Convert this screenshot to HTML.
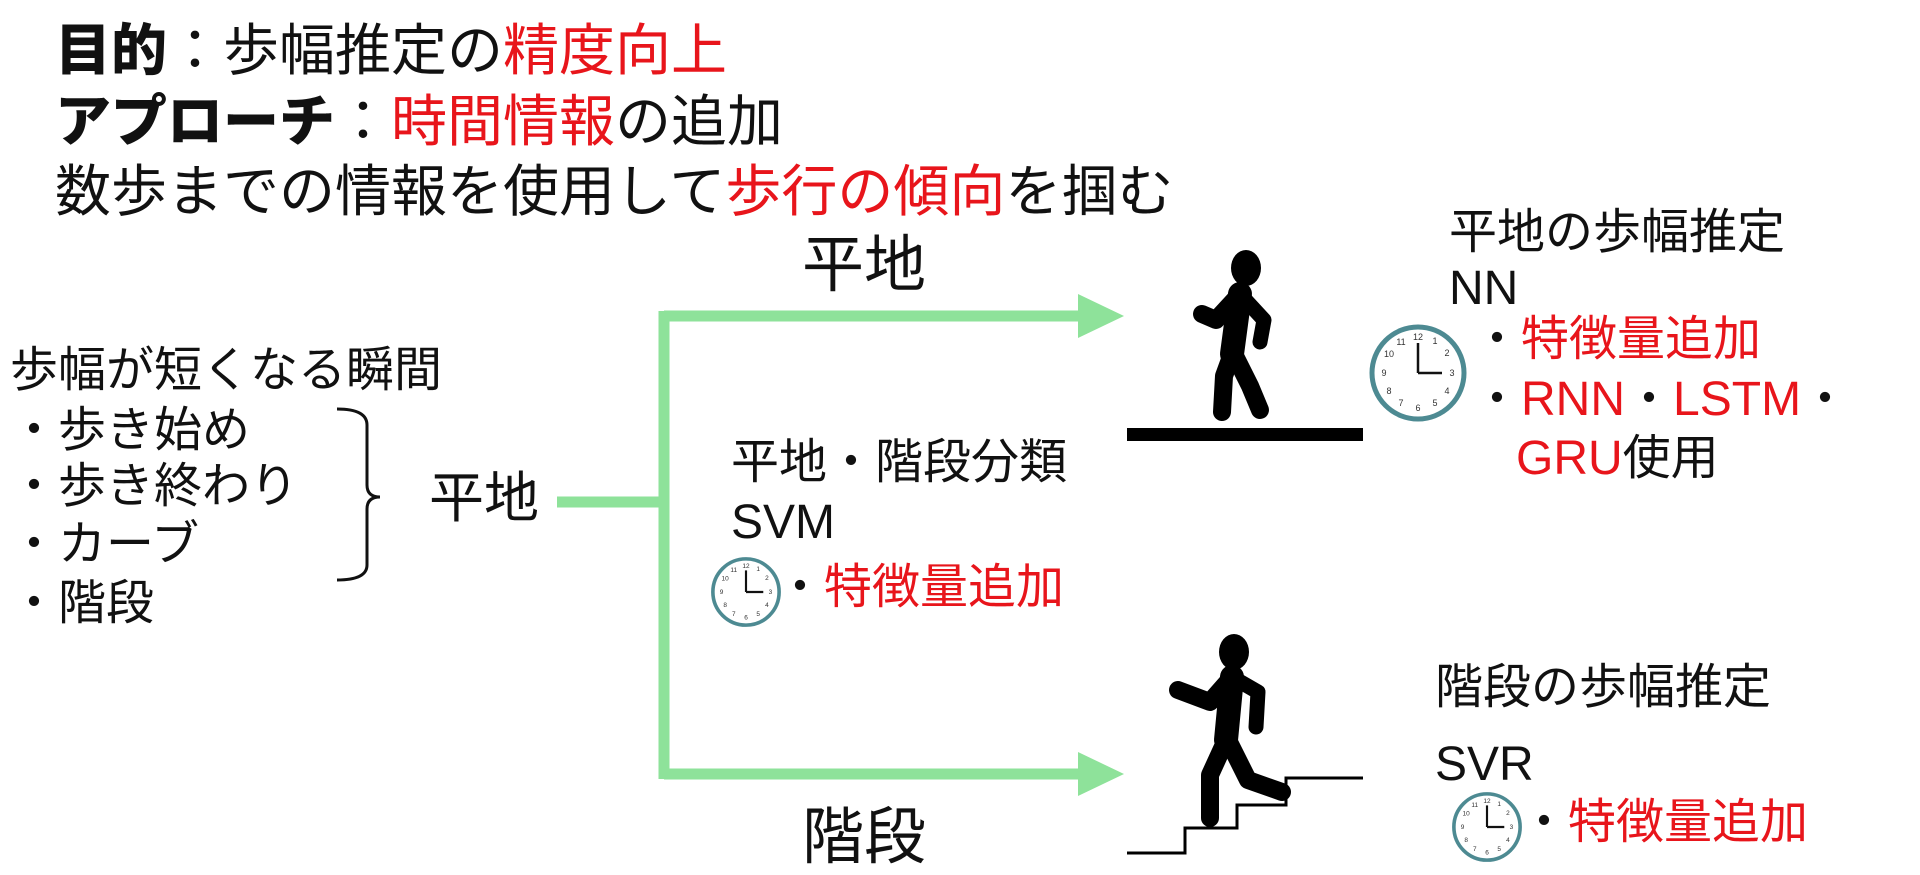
<!DOCTYPE html>
<html><head><meta charset="utf-8"><style>
html,body{margin:0;padding:0;background:#fff;}
body{width:1920px;height:875px;position:relative;overflow:hidden;font-family:"Liberation Sans","Noto Sans CJK JP",sans-serif;color:#111;}
.t{position:absolute;white-space:nowrap;line-height:1;}
.r{color:#e8151b;}
b{font-weight:900;}
svg{position:absolute;}
</style></head><body>
<div class="t" style="left:55px;top:23px;font-size:56px;"><b>目的</b>：歩幅推定の<span class="r">精度向上</span></div>
<div class="t" style="left:55px;top:94px;font-size:56px;"><b>アプローチ</b>：<span class="r">時間情報</span>の追加</div>
<div class="t" style="left:55px;top:164px;font-size:56px;">数歩までの情報を使用して<span class="r">歩行の傾向</span>を掴む</div>

<div class="t" style="left:802px;top:235px;font-size:62px;">平地</div>
<div class="t" style="left:802px;top:807px;font-size:62px;">階段</div>

<div class="t" style="left:10px;top:347px;font-size:48px;">歩幅が短くなる瞬間</div>
<div class="t" style="left:10px;top:407px;font-size:48px;">・歩き始め</div>
<div class="t" style="left:10px;top:463px;font-size:48px;">・歩き終わり</div>
<div class="t" style="left:10px;top:521px;font-size:48px;">・カーブ</div>
<div class="t" style="left:10px;top:580px;font-size:48px;">・階段</div>
<div class="t" style="left:429px;top:471px;font-size:55px;">平地</div>

<div class="t" style="left:731px;top:439px;font-size:48px;">平地・階段分類</div>
<div class="t" style="left:731px;top:499px;font-size:48px;">SVM</div>
<div class="t" style="left:776px;top:564px;font-size:48px;">・<span class="r">特徴量追加</span></div>

<div class="t" style="left:1449px;top:209px;font-size:48px;">平地の歩幅推定</div>
<div class="t" style="left:1449px;top:265px;font-size:48px;">NN</div>
<div class="t" style="left:1473px;top:316px;font-size:48px;">・<span class="r">特徴量追加</span></div>
<div class="t" style="left:1473px;top:376px;font-size:48px;">・<span class="r">RNN</span>・<span class="r">LSTM</span>・</div>
<div class="t" style="left:1516px;top:435px;font-size:48px;"><span class="r">GRU</span>使用</div>

<div class="t" style="left:1435px;top:664px;font-size:48px;">階段の歩幅推定</div>
<div class="t" style="left:1435px;top:741px;font-size:48px;">SVR</div>
<div class="t" style="left:1520px;top:799px;font-size:48px;">・<span class="r">特徴量追加</span></div>

<svg width="1920" height="875" style="left:0;top:0;">
  <path d="M337 409 Q367 409 367 425 L367 485 Q367 497 380 497 Q367 497 367 509 L367 565 Q367 580 337 580" fill="none" stroke="#111" stroke-width="3"/>
  <g stroke="#8ee29a" stroke-width="11" fill="none">
    <line x1="557" y1="502" x2="669" y2="502"/>
    <line x1="664" y1="311" x2="664" y2="779"/>
    <line x1="664" y1="316" x2="1082" y2="316"/>
    <line x1="664" y1="774" x2="1082" y2="774"/>
  </g>
  <polygon points="1078,294 1124,316 1078,338" fill="#8ee29a"/>
  <polygon points="1078,752 1124,774 1078,796" fill="#8ee29a"/>
  <rect x="1127" y="428" width="236" height="13" fill="#000"/>
  <polyline points="1127,853 1185,853 1185,828 1237,828 1237,805 1286,805 1286,778 1363,778" fill="none" stroke="#000" stroke-width="3"/>
  <g stroke="#000" stroke-linecap="round" stroke-linejoin="round" fill="none">
    <ellipse cx="1246" cy="268" rx="15" ry="18" fill="#000" stroke="none"/>
    <path d="M1240 294 L1216 320 L1202 314" stroke-width="18"/>
    <path d="M1240 294 L1264 320 L1260 342" stroke-width="15"/>
    <path d="M1240 294 L1232 354" stroke-width="24"/>
    <path d="M1232 354 L1224 376 L1222 412" stroke-width="18"/>
    <path d="M1234 354 L1250 386 L1260 410" stroke-width="18"/>
  </g>
  <g stroke="#000" stroke-linecap="round" stroke-linejoin="round" fill="none">
    <ellipse cx="1234" cy="652" rx="15" ry="18" fill="#000" stroke="none"/>
    <path d="M1232 677 L1210 702 L1178 690" stroke-width="18"/>
    <path d="M1232 677 L1258 692 L1256 727" stroke-width="15"/>
    <path d="M1232 677 L1226 740" stroke-width="24"/>
    <path d="M1226 740 L1210 775 L1210 818" stroke-width="18"/>
    <path d="M1228 740 L1248 780 L1282 792" stroke-width="18"/>
  </g>
</svg>

<svg style="left:1368px;top:323px;" width="100" height="100" viewBox="0 0 100 100">
  <circle cx="50" cy="50" r="46" fill="#fff" stroke="#4d8a92" stroke-width="5"/>
  <g font-size="9" font-family="Liberation Sans,sans-serif" text-anchor="middle" fill="#333">
    <text x="50" y="17">12</text><text x="67" y="21">1</text><text x="79" y="33">2</text><text x="84" y="53">3</text><text x="79" y="71">4</text><text x="67" y="83">5</text><text x="50" y="88">6</text><text x="33" y="83">7</text><text x="21" y="71">8</text><text x="16" y="53">9</text><text x="21" y="34">10</text><text x="33" y="22">11</text>
  </g>
  <line x1="50" y1="50" x2="50" y2="20" stroke="#111" stroke-width="2.5"/>
  <line x1="50" y1="50" x2="74" y2="50" stroke="#111" stroke-width="2.5"/>
</svg>
<svg style="left:710px;top:556px;" width="72" height="72" viewBox="0 0 100 100">
  <circle cx="50" cy="50" r="46" fill="#fff" stroke="#4d8a92" stroke-width="5"/>
  <g font-size="9" font-family="Liberation Sans,sans-serif" text-anchor="middle" fill="#333">
    <text x="50" y="17">12</text><text x="67" y="21">1</text><text x="79" y="33">2</text><text x="84" y="53">3</text><text x="79" y="71">4</text><text x="67" y="83">5</text><text x="50" y="88">6</text><text x="33" y="83">7</text><text x="21" y="71">8</text><text x="16" y="53">9</text><text x="21" y="34">10</text><text x="33" y="22">11</text>
  </g>
  <line x1="50" y1="50" x2="50" y2="20" stroke="#111" stroke-width="3"/>
  <line x1="50" y1="50" x2="74" y2="50" stroke="#111" stroke-width="3"/>
</svg>
<svg style="left:1451px;top:791px;" width="72" height="72" viewBox="0 0 100 100">
  <circle cx="50" cy="50" r="46" fill="#fff" stroke="#4d8a92" stroke-width="5"/>
  <g font-size="9" font-family="Liberation Sans,sans-serif" text-anchor="middle" fill="#333">
    <text x="50" y="17">12</text><text x="67" y="21">1</text><text x="79" y="33">2</text><text x="84" y="53">3</text><text x="79" y="71">4</text><text x="67" y="83">5</text><text x="50" y="88">6</text><text x="33" y="83">7</text><text x="21" y="71">8</text><text x="16" y="53">9</text><text x="21" y="34">10</text><text x="33" y="22">11</text>
  </g>
  <line x1="50" y1="50" x2="50" y2="20" stroke="#111" stroke-width="3"/>
  <line x1="50" y1="50" x2="74" y2="50" stroke="#111" stroke-width="3"/>
</svg>
</body></html>
